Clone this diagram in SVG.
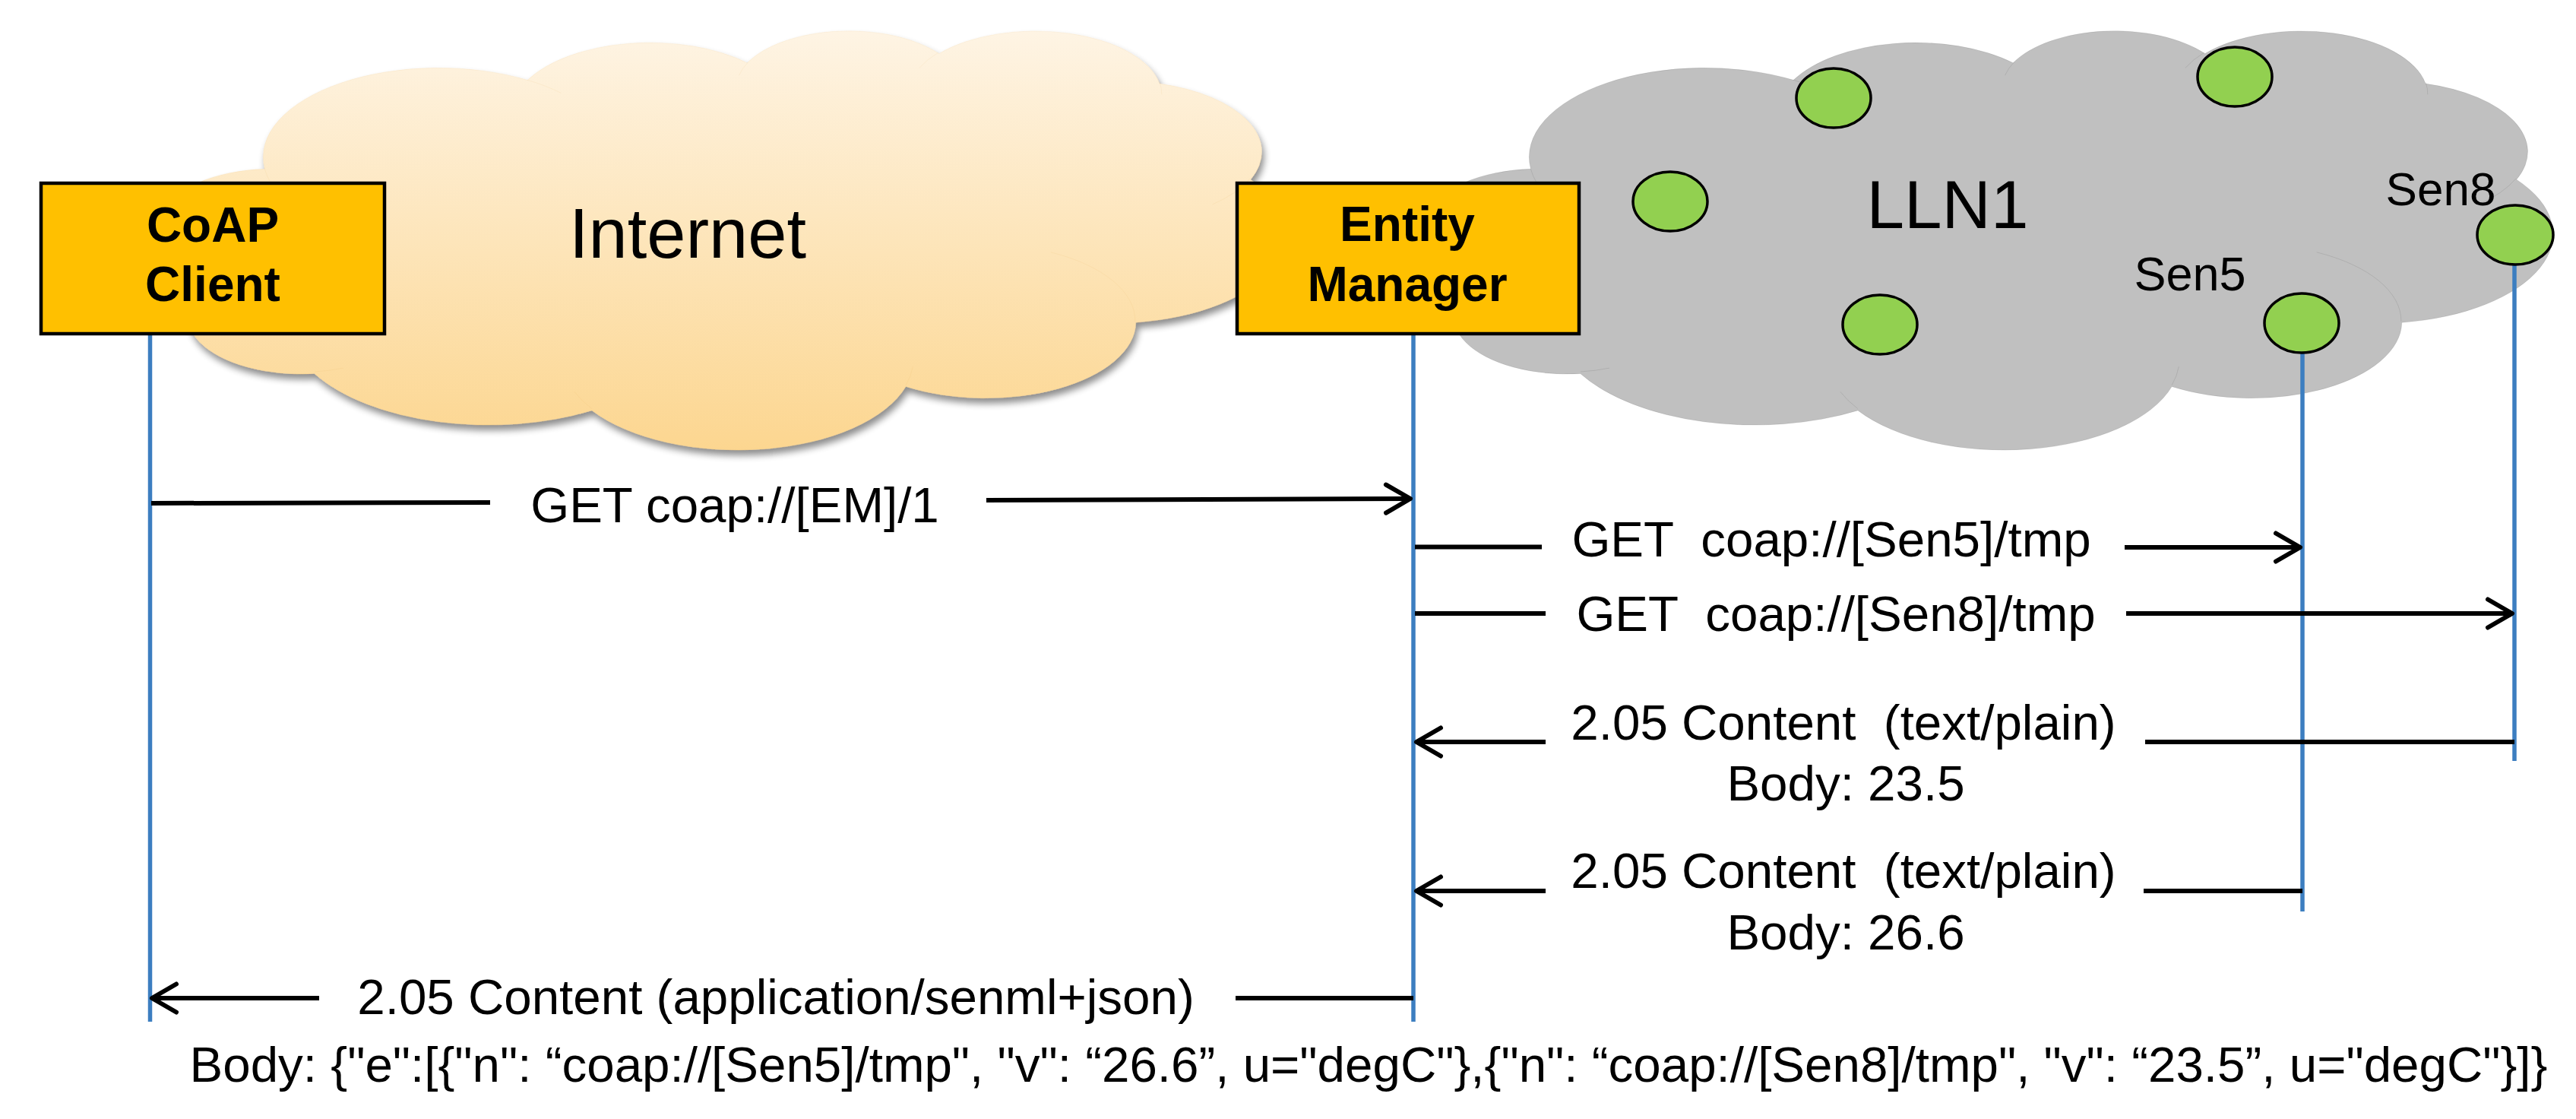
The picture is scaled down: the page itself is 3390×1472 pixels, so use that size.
<svg xmlns="http://www.w3.org/2000/svg" width="3390" height="1472" viewBox="0 0 3390 1472">
<defs>
<style>
.msg{font-family:"Liberation Sans",Arial,sans-serif;font-size:65.5px;fill:#000;text-anchor:middle}
.big{font-family:"Liberation Sans",Arial,sans-serif;fill:#000;text-anchor:middle}
.bold{font-family:"Liberation Sans",Arial,sans-serif;font-weight:bold;font-size:64px;fill:#000;text-anchor:middle}
.box{fill:#FFC000;stroke:#000;stroke-width:4.5}
.life{stroke:#3C7EC0;stroke-width:5.5;fill:none}
.m{stroke:#000;stroke-width:6;fill:none}
.node{fill:#92D050;stroke:#000;stroke-width:3.5}
.cl{vector-effect:non-scaling-stroke}
</style>
<linearGradient id="gInt" x1="0" y1="0" x2="0" y2="1">
<stop offset="0" stop-color="#FEF4E4"/>
<stop offset="1" stop-color="#FCD690"/>
</linearGradient>
<filter id="sh" x="-5%" y="-5%" width="110%" height="120%">
<feGaussianBlur in="SourceAlpha" stdDeviation="5"/>
<feOffset dx="3" dy="7"/>
<feComponentTransfer><feFuncA type="linear" slope="0.45"/></feComponentTransfer>
<feMerge><feMergeNode/><feMergeNode in="SourceGraphic"/></feMerge>
</filter>
<marker id="ah" markerUnits="userSpaceOnUse" markerWidth="60" markerHeight="60" viewBox="-40 -30 60 60" refX="0" refY="0" orient="auto" overflow="visible">
<path d="M-32,-18.5 L0,0 L-32,18.5" fill="none" stroke="#000" stroke-width="6" stroke-linecap="round" stroke-linejoin="round"/>
</marker>
<path id="cloudOut" d="M3900 14370 A6753 9190 0 0 1 14005 5202 A5333 7267 0 0 1 22456 3430 A4365 5945 0 0 1 29833 2478 A4857 6595 0 0 1 38318 5574 A5333 7273 0 0 1 41819 15458 A6775 9220 0 0 1 37406 30204 A5785 7867 0 0 1 28558 36815 A6752 9215 0 0 1 16484 39271 A7720 10543 0 0 1 5809 35475 A4360 5918 0 0 1 2118 25552 A4345 5945 0 0 1 3900 14370 Z"/>
<path id="cloudIn" d="M4693 26177 A4345 5945 0 0 1 2159 25380 M6928 34899 A4360 5918 0 0 1 5819 35281 M16478 39090 A6752 9215 0 0 1 15808 37345 M28827 34751 A6752 9215 0 0 1 28561 36659 M34129 22954 A5785 7867 0 0 1 37381 30090 M41798 15354 A5333 7273 0 0 1 40350 18030 M38324 5426 A4857 6595 0 0 1 38400 6689 M29078 3952 A4857 6595 0 0 1 29820 2339 M22141 4720 A4365 5945 0 0 1 22500 3330 M14000 5192 A6753 9190 0 0 1 15300 6540 M4127 15789 A6753 9190 0 0 1 3900 14372"/>
</defs>
<rect width="3390" height="1472" fill="#fff"/>

<g id="internet">
<g filter="url(#sh)">
<g transform="translate(215,39) scale(0.034213,0.012755)">
<use href="#cloudOut" fill="url(#gInt)" stroke="#D99A33" stroke-width="3.5" class="cl"/>
</g>
</g>
<g transform="translate(215,39) scale(0.034213,0.012755)">
<use href="#cloudIn" fill="none" stroke="#D99A33" stroke-width="3.5" class="cl"/>
</g>
<text class="big" x="905" y="339" font-size="92">Internet</text>
</g>

<g id="lln1">
<g transform="translate(1881,39) scale(0.034213,0.012755)">
<use href="#cloudOut" fill="#C0C0C0" stroke="#000" stroke-width="4" class="cl"/>
<use href="#cloudIn" fill="none" stroke="#000" stroke-width="4" class="cl"/>
</g>
<text class="big" x="2563" y="300" font-size="89">LLN1</text>
</g>

<g id="connectors">
<line class="life" x1="197.5" y1="441" x2="197.5" y2="1344"/>
<line class="life" x1="1860" y1="441" x2="1860" y2="1344"/>
<line class="life" x1="3030" y1="460" x2="3030" y2="1199"/>
<line class="life" x1="3309" y1="346" x2="3309" y2="1001"/>

<line class="m" x1="199" y1="662" x2="645" y2="661"/>
<line class="m" x1="1298" y1="658" x2="1856" y2="656" marker-end="url(#ah)"/>
<text class="msg" x="967" y="687" font-size="64">GET coap://[EM]/1</text>

<line class="m" x1="1862" y1="719.5" x2="2029" y2="719.5"/>
<line class="m" x1="2796" y1="720" x2="3027" y2="720" marker-end="url(#ah)"/>
<text class="msg" x="2410" y="732" xml:space="preserve">GET  coap://[Sen5]/tmp</text>

<line class="m" x1="1862" y1="807" x2="2034" y2="807"/>
<line class="m" x1="2798" y1="807" x2="3306" y2="807" marker-end="url(#ah)"/>
<text class="msg" x="2416" y="830" xml:space="preserve">GET  coap://[Sen8]/tmp</text>

<line class="m" x1="2034" y1="976" x2="1864" y2="976" marker-end="url(#ah)"/>
<line class="m" x1="2823" y1="976" x2="3309" y2="976"/>
<text class="msg" x="2426" y="973" xml:space="preserve">2.05 Content  (text/plain)</text>
<text class="msg" x="2429" y="1053" font-size="64.5">Body: 23.5</text>

<line class="m" x1="2034" y1="1172" x2="1864" y2="1172" marker-end="url(#ah)"/>
<line class="m" x1="2821" y1="1172" x2="3030" y2="1172"/>
<text class="msg" x="2426" y="1168" xml:space="preserve">2.05 Content  (text/plain)</text>
<text class="msg" x="2429" y="1249" font-size="64.5">Body: 26.6</text>

<line class="m" x1="420" y1="1313" x2="200" y2="1313" marker-end="url(#ah)"/>
<line class="m" x1="1626" y1="1313" x2="1860" y2="1313"/>
<text class="msg" x="1021" y="1334" font-size="66">2.05 Content (application/senml+json)</text>

<text class="msg" x="1801" y="1423">Body: {"e":[{"n": “coap://[Sen5]/tmp", "v": “26.6”, u="degC"},{"n": “coap://[Sen8]/tmp", "v": “23.5”, u="degC"}]}</text>
</g>

<g id="coap-client">
<rect class="box" x="54" y="241" width="452" height="198"/>
<text class="bold" x="280" y="318">CoAP</text>
<text class="bold" x="280" y="396">Client</text>
</g>

<g id="entity-manager">
<rect class="box" x="1628" y="241" width="450" height="198"/>
<text class="bold" x="1852" y="317">Entity</text>
<text class="bold" x="1852" y="396">Manager</text>
</g>

<g id="node-a"><ellipse class="node" cx="2413" cy="129" rx="49" ry="39"/></g>
<g id="node-b"><ellipse class="node" cx="2941" cy="101" rx="49" ry="39"/></g>
<g id="node-c"><ellipse class="node" cx="2198" cy="265" rx="49" ry="39"/></g>
<g id="node-d"><ellipse class="node" cx="2474" cy="427" rx="49" ry="39"/></g>
<g id="sen5">
<ellipse class="node" cx="3029" cy="425" rx="49" ry="39"/>
<text class="big" x="2882" y="382" font-size="63">Sen5</text>
</g>
<g id="sen8">
<ellipse class="node" cx="3310" cy="309" rx="50" ry="39"/>
<text class="big" x="3212" y="270" font-size="62">Sen8</text>
</g>
</svg>
